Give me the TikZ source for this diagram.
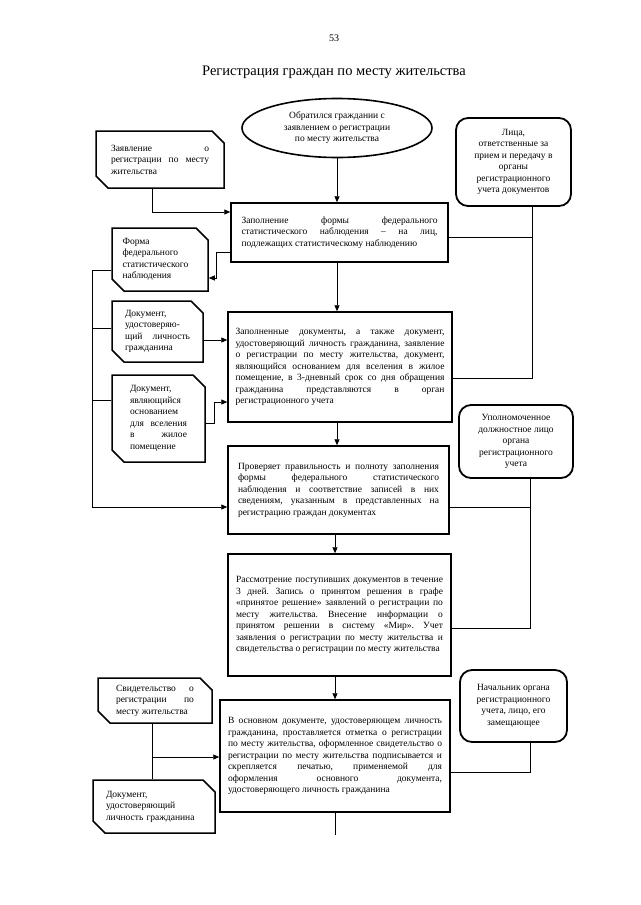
\documentclass[tikz,border=0pt]{standalone}
\usepackage{fontspec}
\setmainfont{Liberation Serif}
\usetikzlibrary{shapes.geometric,shapes.misc,arrows.meta,shadows}
\tolerance=10000 \hbadness=10000 \hfuzz=10pt
\frenchspacing
\newcommand\bxf{\fontsize{9.5}{11.5}\selectfont}
\begin{document}
\begin{tikzpicture}[x=1pt,y=-1pt,
  conn/.style={line width=0.9pt},
  arr/.style={line width=0.9pt,-{Triangle[length=6pt,width=5pt]}},
  shd/.style={drop shadow={opacity=1,fill=black,shadow xshift=0.9pt,shadow yshift=-0.9pt}},
  mainbox/.style={draw,fill=white,shd,line width=1.5pt,rectangle,inner sep=0pt,align=justify,font=\bxf},
  docbox/.style={draw,fill=white,shd,line width=1.5pt,chamfered rectangle,
    chamfered rectangle corners={north east,south west},
    chamfered rectangle xsep=6pt,chamfered rectangle ysep=6pt,
    inner sep=0pt,align=justify,font=\bxf},
  rbox/.style={draw,fill=white,line width=1.8pt,rectangle,rounded corners=12pt,inner sep=0pt,align=center,font=\bxf},
  ovalbox/.style={draw,fill=white,line width=1.6pt,ellipse,inner sep=0pt,align=center,font=\bxf}]
\fill[white] (0,0) rectangle (640,905);
\useasboundingbox (0,0) rectangle (640,905);

\node[font=\fontsize{10}{12}\selectfont] (pg) at (334,38) {53};
\node[font=\fontsize{14.5}{17}\selectfont] (title) at (334,72) {Регистрация граждан по месту жительства};

\node[ovalbox,minimum width=190pt,minimum height=59pt] (ell) at (337,128)
  {Обратился граждании с\\заявлением о регистрации\\по месту жительства};

\node[docbox,minimum width=128pt,minimum height=57pt,text width=98pt] (zayav) at (160,159.5)
  {Заявление о\linebreak регистрации по месту\linebreak жительства};

\node[rbox,minimum width=115pt,minimum height=88pt] (lica) at (513.5,162)
  {Лица,\\ответственные за\\прием и передачу в\\органы\\регистрационного\\учета документов};

\node[mainbox,minimum width=217pt,minimum height=59pt,text width=196pt] (A) at (339.5,232.5)
  {Заполнение формы федерального\linebreak статистического наблюдения – на лиц,\linebreak подлежащих статистическому наблюдению};

\node[docbox,minimum width=96pt,minimum height=63pt,text width=75pt] (forma) at (160,259.5)
  {Форма\\федерального\\статистического\\наблюдения};

\node[docbox,minimum width=91pt,minimum height=61pt,text width=65pt] (dokud) at (157.5,331.5)
  {Документ,\\удостоверяю-\\щий личность\linebreak гражданина};

\node[mainbox,minimum width=224pt,minimum height=110pt,text width=209pt] (B) at (340,367)
  {Заполненные документы, а также документ,\linebreak удостоверяющий личность гражданина, заявление\linebreak о регистрации по месту жительства, документ,\linebreak являющийся основанием для вселения в жилое\linebreak помещение, в 3-дневный срок со дня обращения\linebreak гражданина представляются в орган\linebreak регистрационного учета};

\node[docbox,minimum width=93pt,minimum height=87pt,text width=57pt] (dokyav) at (158.5,418.5)
  {Документ,\\являющийся\\основанием\\для вселения\linebreak в жилое\linebreak помещение};

\node[rbox,minimum width=114pt,minimum height=73pt] (upoln) at (516,441.5)
  {Уполномоченное\\должностное лицо\\органа\\регистрационного\\учета};

\node[mainbox,minimum width=221pt,minimum height=88pt,text width=201pt] (C) at (338.5,490)
  {Проверяет правильность и полноту заполнения\linebreak формы федерального статистического\linebreak наблюдения и соответствие записей в них\linebreak сведениям, указанным в представленных на\linebreak регистрацию граждан документах};

\node[mainbox,minimum width=223pt,minimum height=122pt,text width=207pt] (D) at (339.5,615)
  {Рассмотрение поступивших документов в течение\linebreak 3 дней. Запись о принятом решения в графе\linebreak «принятое решение» заявлений о регистрации по\linebreak месту жительства. Внесение информации о\linebreak принятом решении в систему «Мир». Учет\linebreak заявления о регистрации по месту жительства и\linebreak свидетельства о регистрации по месту жительства};

\node[docbox,minimum width=114pt,minimum height=45pt,text width=78pt] (svid) at (155,700.5)
  {Свидетельство о\linebreak регистрации по\linebreak месту жительства};

\node[rbox,minimum width=107pt,minimum height=72pt] (nach) at (513.5,706)
  {Начальник органа\\регистрационного\\учета, лицо, его\\замещающее};

\node[mainbox,minimum width=230pt,minimum height=112pt,text width=214pt] (E) at (335,756)
  {В основном документе, удостоверяющем личность\linebreak гражданина, проставляется отметка о регистрации\linebreak по месту жительства, оформленное свидетельство о\linebreak регистрации по месту жительства подписывается и\linebreak скрепляется печатью, применяемой для\linebreak оформления основного документа,\linebreak удостоверяющего личность гражданина};

\node[docbox,minimum width=122pt,minimum height=53pt,text width=96pt,align=left] (dokud2) at (154,806.5)
  {Документ,\\удостоверяющий\\личность гражданина};

\coordinate (endE) at (335,835);

% connectors
\draw[arr] (ell.south -| 337,0) -- (A.north -| 337,0);
\draw[arr] (zayav.south -| 152,0) -- (152,212) -- (A.west |- 0,212);
\draw[conn] (lica.south -| 532,0) -- (532,378) -- (B.east |- 0,378);
\draw[conn] (A.east |- 0,237) -- (532,237);
\draw[arr] (A.west |- 0,252) -- (216,252) -- (216,278) -- (forma.east |- 0,278);
\draw[arr] (forma.west |- 0,270) -- (92,270) -- (92,507) -- (C.west |- 0,507);
\draw[conn] (dokud.west |- 0,328) -- (92,328);
\draw[conn] (dokyav.west |- 0,400) -- (92,400);
\draw[arr] (dokud.east |- 0,340) -- (B.west |- 0,340);
\draw[arr] (dokyav.east |- 0,423) -- (214,423) -- (214,402) -- (B.west |- 0,402);
\draw[arr] (A.south -| 337,0) -- (B.north -| 337,0);
\draw[arr] (B.south -| 337,0) -- (C.north -| 337,0);
\draw[arr] (C.south -| 335,0) -- (D.north -| 335,0);
\draw[arr] (D.south -| 335,0) -- (E.north -| 335,0);
\draw[conn] (E.south -| 335,0) -- (endE);
\draw[conn] (upoln.south -| 530,0) -- (530,628) -- (D.east |- 0,628);
\draw[conn] (C.east |- 0,507) -- (530,507);
\draw[conn] (svid.south -| 152,0) -- (dokud2.north -| 152,0);
\draw[arr] (152,757) -- (E.west |- 0,757);
\draw[conn] (nach.south -| 530,0) -- (530,772) -- (E.east |- 0,772);
\end{tikzpicture}
\end{document}
